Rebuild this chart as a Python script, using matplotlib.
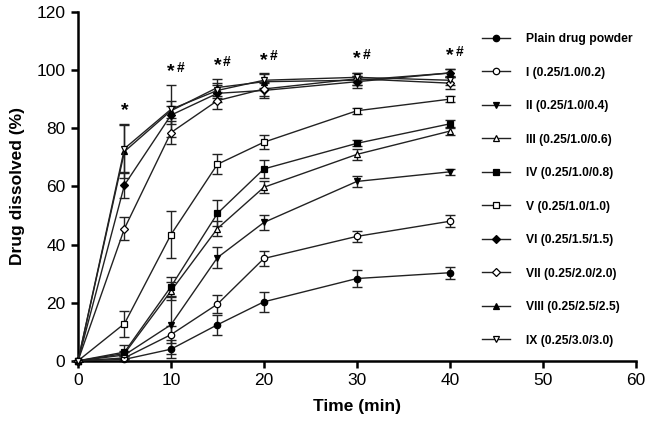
import matplotlib
matplotlib.use("Agg")
import matplotlib.pyplot as plt

plt.rcParams['font.family'] = ['Liberation Sans', 'DejaVu Sans']

# sampling times (min)
time = [0, 5, 10, 15, 20, 30, 40]

labels = ["Plain drug powder", "I (0.25/1.0/0.2)", "II (0.25/1.0/0.4)",
          "III (0.25/1.0/0.6)", "IV (0.25/1.0/0.8)", "V (0.25/1.0/1.0)",
          "VI (0.25/1.5/1.5)", "VII (0.25/2.0/2.0)", "VIII (0.25/2.5/2.5)",
          "IX (0.25/3.0/3.0)"]

# mean % dissolved
plain = [0, 0.5, 4, 12.4, 20.3, 28.3, 30.3]
f1 = [0, 1, 9, 19.5, 35.2, 42.8, 48]
f2 = [0, 2, 12.4, 35.5, 47.6, 61.7, 65]
f3 = [0, 2.5, 24, 45.5, 59.7, 71, 79]
f4 = [0, 3, 25.5, 50.7, 66, 74.8, 81.5]
f5 = [0, 12.8, 43.4, 67.6, 75.2, 86, 90]
f6 = [0, 60.5, 84.5, 92, 93, 96, 99]
f7 = [0, 45.5, 78.5, 89.5, 93.5, 97, 95.5]
f8 = [0, 72, 86, 94, 96, 96.5, 99]
f9 = [0, 73, 86.5, 93, 96.5, 97.5, 96.5]

# standard deviations
e_plain = [0, 0.5, 3, 3.5, 3.5, 3, 2]
e1 = [0, 0.5, 3, 3, 2.5, 2, 2]
e2 = [0, 1, 10, 3.5, 2.5, 2, 1]
e3 = [0, 1, 3, 2.5, 2, 2, 1.5]
e4 = [0, 2.5, 3.5, 4.5, 3, 1, 1.5]
e5 = [0, 4.5, 8, 3.5, 2.5, 1, 1]
e6 = [0, 4.5, 3, 3, 2.5, 2, 1.5]
e7 = [0, 4, 4, 3, 2.5, 2, 2]
e8 = [0, 9, 9, 3, 2.5, 1.5, 1.5]
e9 = [0, 8.5, 3, 2.5, 2.5, 1.5, 1.5]

means = [plain, f1, f2, f3, f4, f5, f6, f7, f8, f9]
errs = [e_plain, e1, e2, e3, e4, e5, e6, e7, e8, e9]
markers = ["o", "o", "v", "^", "s", "s", "D", "D", "^", "v"]
filled = [True, False, True, False, True, False, True, False, True, False]

# significance marks
sig_t = [5, 10, 15, 20, 30, 40]
sig_y = [83, 96.5, 98.5, 100.5, 101, 102]
sig_hash = [False, True, True, True, True, True]

fig = plt.figure(figsize=(6.5, 4.26), dpi=100)
ax = fig.add_axes([0.12, 0.153, 0.858, 0.819])

for m, e, mk, fl, lab in zip(means, errs, markers, filled, labels):
    ms = 3.8 if mk == "D" else 4.6
    ax.errorbar(time, m, yerr=e, fmt="none", ecolor="#222222",
                elinewidth=1.0, capsize=3.5, capthick=1.0, clip_on=False,
                zorder=2)
    ax.plot(time, m, color="#222222", lw=1.0, marker=mk, ms=ms,
            mfc="black" if fl else "white", mec="black", mew=0.9,
            label=lab, clip_on=False, zorder=3)

for t, y, h in zip(sig_t, sig_y, sig_hash):
    ax.text(t, y, "*", ha="center", va="bottom", fontsize=14,
            fontweight="bold")
    if h:
        ax.text(t + 0.6, y + 1.8, "#", ha="left", va="bottom", fontsize=10,
                fontweight="bold")

ax.set_xlim(0, 60)
ax.set_ylim(0, 120)
ax.set_xticks(range(0, 61, 10))
ax.set_yticks(range(0, 121, 20))
ax.spines["top"].set_visible(False)
ax.spines["right"].set_visible(False)
ax.spines["left"].set_linewidth(1.8)
ax.spines["bottom"].set_linewidth(1.8)
ax.tick_params(direction="out", length=5, width=1.8, labelsize=12.5, pad=4)
ax.set_xlabel("Time (min)", fontsize=12.5, fontweight="bold", labelpad=8)
ax.set_ylabel("Drug dissolved (%)", fontsize=12.5, fontweight="bold", labelpad=8)

leg = fig.legend(loc="upper left", bbox_to_anchor=(482 / 650, 1 - 33 / 426),
                 frameon=False, fontsize=8.7, handlelength=2.3,
                 handletextpad=1.3, labelspacing=1.78, borderpad=0,
                 borderaxespad=0)
for txt in leg.get_texts():
    txt.set_fontweight("bold")

fig.savefig("out.png", dpi=100)
